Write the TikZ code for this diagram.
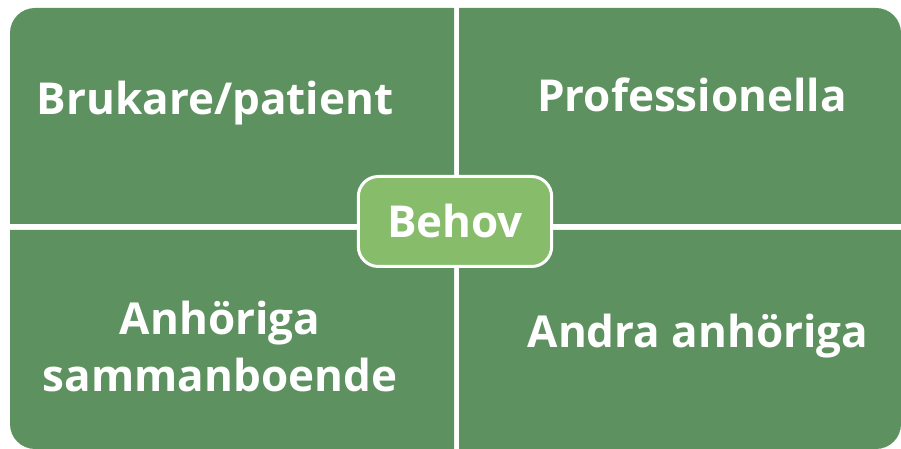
\documentclass[tikz,border=0pt]{standalone}
\usepackage{fontspec}
\setmainfont{Open Sans}
\definecolor{tilegreen}{RGB}{94,145,96}
\definecolor{hubgreen}{RGB}{134,188,106}

\begin{document}
\begin{tikzpicture}[x=0.75pt, y=-0.75pt,
  tile/.style={fill=tilegreen},
  label/.style={text=white, font=\bfseries\fontsize{33pt}{42.75pt}\selectfont, anchor=base, align=center, inner sep=0pt},
  hub/.style={draw=white, line width=2.25pt, fill=hubgreen, rounded corners=15pt, minimum width=145pt, minimum height=67.5pt, text=white, font=\bfseries\fontsize{33pt}{42.75pt}\selectfont}]

\useasboundingbox (0,0) rectangle (901,449);

% the four tiles, each with its outer corner rounded
\fill[tile] (454,224) -- (10,224) [rounded corners=18.75pt] -- (10,8) [sharp corners] -- (454,8) -- cycle;
\fill[tile] (459,224) -- (459,8) [rounded corners=18.75pt] -- (901,8) [sharp corners] -- (901,224) -- cycle;
\fill[tile] (454,230) -- (454,449) [rounded corners=18.75pt] -- (10,449) [sharp corners] -- (10,230) -- cycle;
\fill[tile] (459,230) -- (901,230) [rounded corners=18.75pt] -- (901,449) [sharp corners] -- (459,449) -- cycle;

\node (patient) [label] at (215,115) {Brukare/patient};
\node (prof) [label] at (692,112) {Professionella};
\node (sambo) [label] at (220,392) {Anhöriga\\sammanboende};
\node (andra) [label] at (698,348) {Andra anhöriga};

\node (behov) [hub] at (455,221.5) {Behov};

\end{tikzpicture}
\end{document}
